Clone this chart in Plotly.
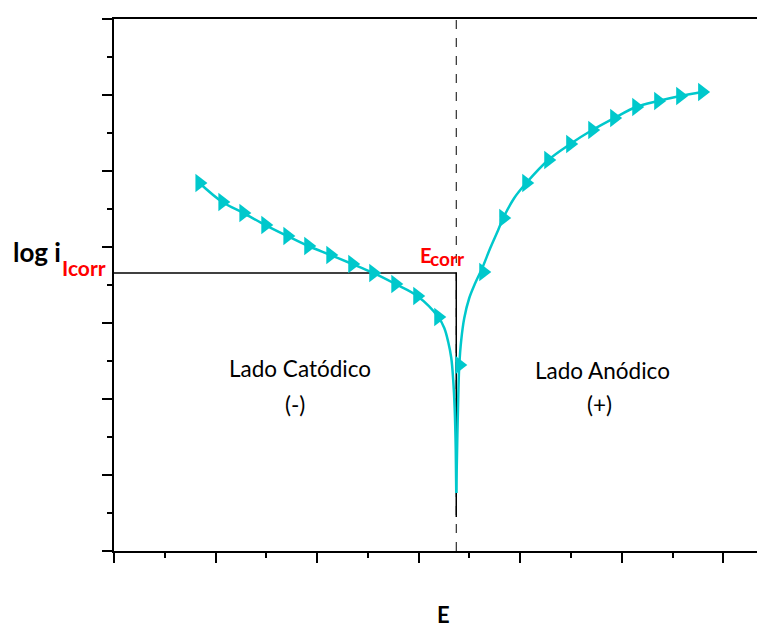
import plotly.graph_objects as go

# ---- data (arbitrary units: E on x, log i on y) ----
E_CORR = 3.37
LOG_ICORR = 3.658

cath_line_x = [0.841, 1.067, 1.274, 1.490, 1.707, 1.913, 2.130, 2.346, 2.553, 2.770, 2.986, 3.193,
               3.252, 3.291, 3.321, 3.340, 3.355, 3.365, 3.370]
cath_line_y = [4.842, 4.592, 4.447, 4.289, 4.145, 4.013, 3.895, 3.776, 3.658, 3.513, 3.355, 3.079,
               2.934, 2.750, 2.539, 2.250, 1.855, 1.329, 0.763]
cath_mark_x = [0.841, 1.067, 1.274, 1.490, 1.707, 1.913, 2.130, 2.346, 2.553, 2.770, 2.986, 3.193]
cath_mark_y = [4.842, 4.592, 4.447, 4.289, 4.145, 4.013, 3.895, 3.776, 3.658, 3.513, 3.355, 3.079]

anod_line_x = [3.370, 3.380, 3.390, 3.400, 3.419, 3.449, 3.498, 3.557, 3.626, 3.705, 3.783, 3.833,
               3.941, 4.059, 4.276, 4.492, 4.709, 4.925, 5.142, 5.358, 5.575, 5.791]
anod_line_y = [0.763, 1.461, 2.053, 2.447, 2.776, 3.066, 3.329, 3.526, 3.724, 3.987, 4.224, 4.382,
               4.645, 4.842, 5.145, 5.355, 5.539, 5.697, 5.842, 5.921, 5.987, 6.039]
anod_mark_x = [3.400, 3.636, 3.833, 4.059, 4.276, 4.492, 4.709, 4.925, 5.142, 5.358, 5.575, 5.791]
anod_mark_y = [2.447, 3.671, 4.382, 4.842, 5.145, 5.355, 5.539, 5.697, 5.842, 5.921, 5.987, 6.039]

X_RANGE = [0, 6.41]
Y_RANGE = [0, 7]
SOLID_BOTTOM = 0.447

CYAN = "#00C8CC"
FONT = "Lato"

fig = go.Figure()
for lx, ly in [(cath_line_x, cath_line_y), (anod_line_x, anod_line_y)]:
    fig.add_trace(go.Scatter(x=lx, y=ly, mode="lines", line=dict(color=CYAN, width=2.5, shape="spline"),
                             showlegend=False, hoverinfo="skip"))
for mx, my in [(cath_mark_x, cath_mark_y), (anod_mark_x, anod_mark_y)]:
    fig.add_trace(go.Scatter(x=mx, y=my, mode="markers",
                             marker=dict(symbol="triangle-right", size=16, color=CYAN, line=dict(width=0)),
                             showlegend=False, hoverinfo="skip"))

# reference lines
fig.add_shape(type="line", xref="x", yref="y", x0=E_CORR, x1=E_CORR, y0=Y_RANGE[0], y1=Y_RANGE[1],
              line=dict(color="black", width=1, dash="dash"), layer="below")
fig.add_shape(type="line", xref="x", yref="y", x0=E_CORR, x1=E_CORR, y0=SOLID_BOTTOM, y1=LOG_ICORR,
              line=dict(color="black", width=1.5), layer="below")
fig.add_shape(type="line", xref="x", yref="y", x0=X_RANGE[0], x1=E_CORR, y0=LOG_ICORR, y1=LOG_ICORR,
              line=dict(color="black", width=1.5), layer="below")

ann = []
# axis labels
ann.append(dict(xref="paper", yref="paper", x=-0.118, y=0.528,
                xanchor="center", yanchor="bottom", text="<b>log i</b>", showarrow=False,
                font=dict(family=FONT, size=26, color="black")))
ann.append(dict(xref="paper", yref="paper", x=-0.083, y=0.533,
                xanchor="left", yanchor="middle", text="<b>Icorr</b>", showarrow=False,
                font=dict(family=FONT, size=21, color="red")))
ann.append(dict(xref="paper", yref="paper", x=(443 - 114) / 651, y=-0.119,
                xanchor="center", yanchor="middle", text="<b>E</b>", showarrow=False,
                font=dict(family=FONT, size=22, color="black")))
# Ecorr label
ann.append(dict(xref="x", yref="y", x=E_CORR - 0.38, y=LOG_ICORR + 0.243,
                xanchor="left", yanchor="middle", text="<b>E</b>", showarrow=False,
                font=dict(family=FONT, size=20, color="red")))
ann.append(dict(xref="x", yref="y", x=E_CORR - 0.28, y=LOG_ICORR + 0.188,
                xanchor="left", yanchor="middle", text="<b>corr</b>", showarrow=False,
                font=dict(family=FONT, size=19, color="red")))
# region labels
for tx, ty, t in [(1.83, 2.40, "Lado Catódico"), (1.78, 1.93, "(-)"),
                  (4.81, 2.37, "Lado Anódico"), (4.78, 1.93, "(+)")]:
    ann.append(dict(xref="x", yref="y", x=tx, y=ty, xanchor="center", yanchor="middle", text=t,
                    showarrow=False, font=dict(family=FONT, size=22.5, color="black")))

# the page adds an 8px body margin, so the figure is sized 8px smaller
fig.update_layout(
    width=757, height=620,
    margin=dict(l=106, r=0, t=11, b=77),
    paper_bgcolor="white", plot_bgcolor="white",
    annotations=ann,
    xaxis=dict(range=X_RANGE, showgrid=False, zeroline=False, showticklabels=False,
               showline=True, linecolor="black", linewidth=2, mirror=True,
               ticks="outside", ticklen=10, tickwidth=2, tickcolor="black", dtick=1, tick0=0,
               minor=dict(ticks="outside", ticklen=5, tickwidth=2, tickcolor="black", dtick=0.5)),
    yaxis=dict(range=Y_RANGE, showgrid=False, zeroline=False, showticklabels=False,
               showline=True, linecolor="black", linewidth=2,
               ticks="outside", ticklen=10, tickwidth=2, tickcolor="black", dtick=1, tick0=0,
               minor=dict(ticks="outside", ticklen=5, tickwidth=2, tickcolor="black", dtick=0.5)),
)

fig.write_html("out.html")
